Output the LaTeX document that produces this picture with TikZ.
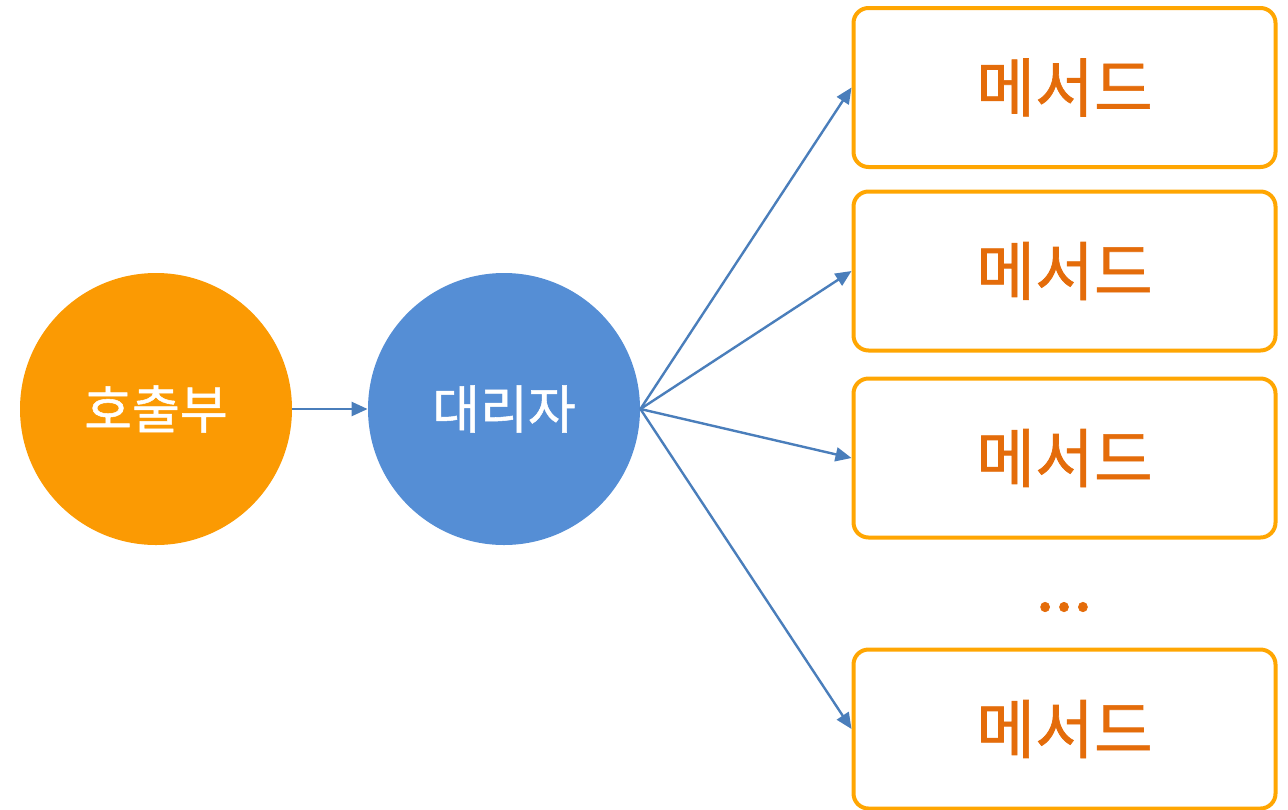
\documentclass[tikz,border=0pt]{standalone}
\usepackage{fontspec}
\setmainfont{Noto Sans CJK KR}
\newfontfamily\labelfont{Noto Sans CJK KR}[FakeBold=1]
\usetikzlibrary{arrows.meta}
\definecolor{callorange}{HTML}{FB9A03}
\definecolor{proxyblue}{HTML}{558ED5}
\definecolor{linkblue}{HTML}{4A7EBB}
\definecolor{boxorange}{HTML}{FFA602}
\definecolor{textorange}{HTML}{E46C0A}

\begin{document}
\begin{tikzpicture}[x=0.5pt,y=-0.5pt,
    ball/.style={circle,minimum size=136pt,inner sep=0pt,text=white,font=\labelfont\fontsize{26}{30}\selectfont},
    method/.style={draw=boxorange,line width=2pt,rounded corners=7.5pt,fill=white,
        minimum width=211pt,minimum height=79.5pt,inner sep=0pt,
        text=textorange,font=\labelfont\fontsize{32}{36}\selectfont},
    link/.style={draw=linkblue,line width=1.2pt,-{Triangle[length=8pt,width=7pt]}}]
    \useasboundingbox (0,0) rectangle (1288,809);
    % caller and proxy
    \node[ball,fill=callorange] (caller) at (156,409) {호출부};
    \node[ball,fill=proxyblue] (proxy) at (504,409) {대리자};
    % methods on the right
    \node[method] (m1) at (1064.5,87.5) {메서드};
    \node[method] (m2) at (1064.5,271) {메서드};
    \node[method] (m3) at (1064.5,458) {메서드};
    \node[method] (m4) at (1064.5,729) {메서드};
    \node[text=textorange,font=\labelfont\fontsize{34}{38}\selectfont] (dots) at (1064,607) {...};
    % connectors
    \draw[link] (caller.east) -- (proxy.west);
    \foreach \m in {m1,m2,m3,m4}
        \draw[link] (proxy.east) -- (\m.west);
\end{tikzpicture}
\end{document}
